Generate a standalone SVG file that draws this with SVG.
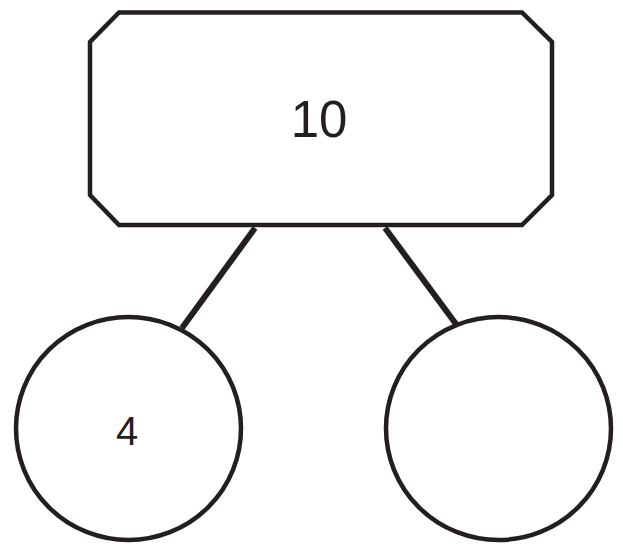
<svg xmlns="http://www.w3.org/2000/svg" width="623" height="544" viewBox="0 0 623 544">
<style>
.shape{fill:#fff;stroke:#231f20;stroke-width:4.5}
.conn{stroke:#231f20;stroke-width:6;fill:none}
.lbl{font-family:"Liberation Sans",Arial,sans-serif;fill:#231f20;text-anchor:middle}
</style>
<rect width="623" height="544" fill="#fff"/>
<g id="connectors">
<line class="conn" x1="255" y1="228" x2="182" y2="328"/>
<line class="conn" x1="385" y1="228" x2="456" y2="324"/>
</g>
<g id="node-top">
<polygon class="shape" points="119,12.5 522,12.5 552,42 552,195 522,225 119,225 90,195 90,42"/>
<text class="lbl" x="319" y="137" font-size="51">10</text>
</g>
<g id="node-left">
<ellipse class="shape" cx="128.5" cy="428.5" rx="112.5" ry="111.5"/>
<text class="lbl" x="127" y="445" font-size="40">4</text>
</g>
<g id="node-right">
<ellipse class="shape" cx="498.5" cy="428.5" rx="112.5" ry="111.5"/>
</g>
</svg>
